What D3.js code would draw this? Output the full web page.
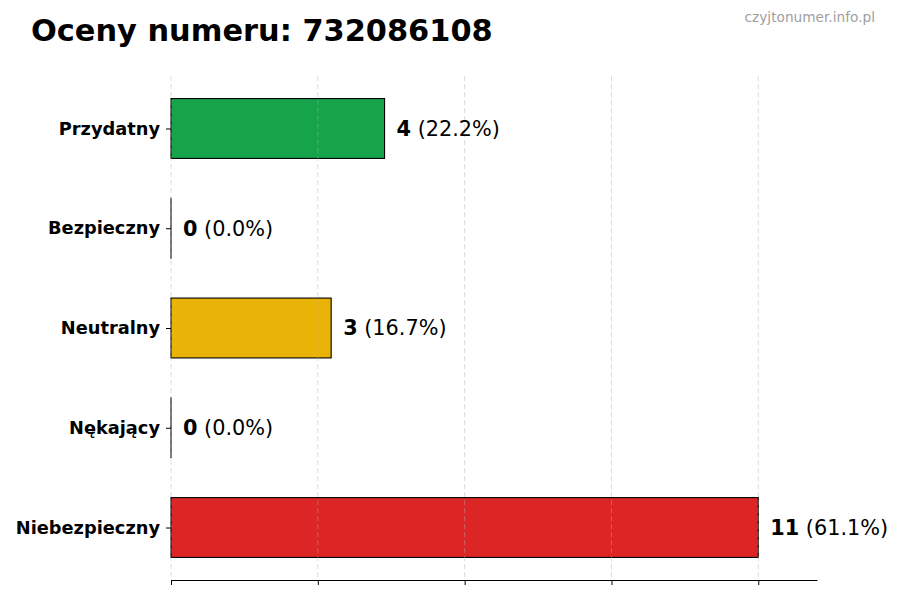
<!DOCTYPE html>
<html><head><meta charset="utf-8">
<script src="https://cdn.jsdelivr.net/npm/d3@7"></script>
<style>body{margin:0;background:#fff}svg{display:block}text{font-family:"DejaVu Sans",sans-serif}</style>
</head><body><svg id="c" width="900" height="600"></svg>
<script>
const categories = ["Przydatny","Bezpieczny","Neutralny","Nękający","Niebezpieczny"];
const counts = [4,0,3,0,11];
const percents = ["22.2%","0.0%","16.7%","0.0%","61.1%"];
const colors = ["#16a34a","#22c55e","#eab308","#f97316","#dc2626"];
const titleText = "Oceny numeru: 732086108";
const watermark = "czyjtonumer.info.pl";

(function(){
const svg = d3.select("#c");
const pL = 171, pR = 817, pT = 76, pB = 580;
const maxV = d3.max(counts);
const x = d3.scaleLinear().domain([0, maxV*1.1]).range([pL, pR]);
const y = d3.scalePoint().domain(categories).range([pT, pB]).padding(0.526);
const bh = y.step()*0.6;
const ticks = [0,0.25,0.5,0.75,1].map(f=>f*maxV);

// bars
svg.append("g").selectAll("rect").data(categories).join("rect")
  .attr("x", x(0)).attr("y", d=>y(d)-bh/2)
  .attr("width", (d,i)=>Math.max(x(counts[i])-x(0), 0.01)).attr("height", bh)
  .attr("fill", (d,i)=>colors[i]).attr("stroke","#000").attr("stroke-width",1.1);

// grid
svg.append("g").selectAll("line").data(ticks).join("line")
  .attr("x1", d=>x(d)).attr("x2", d=>x(d)).attr("y1", pT).attr("y2", pB)
  .attr("stroke","#b0b0b0").attr("stroke-opacity",0.55).attr("stroke-dasharray","5,3").attr("stroke-width",0.8);

// x axis
const xa = svg.append("g").attr("transform",`translate(0,${pB})`)
  .call(d3.axisBottom(x).tickValues(ticks).tickFormat("").tickSize(5).tickSizeOuter(0));
xa.select(".domain").attr("stroke","#000").attr("stroke-width",1.1);
xa.selectAll(".tick line").attr("stroke","#000").attr("stroke-width",1);

// y axis
const ya = svg.append("g").attr("transform",`translate(${pL},0)`)
  .call(d3.axisLeft(y).tickSize(5).tickPadding(6));
ya.select(".domain").remove();
ya.selectAll(".tick line").attr("stroke","#000");
ya.selectAll(".tick text").attr("font-size",17.8).attr("font-weight","bold").attr("fill","#000")
  .attr("font-family","DejaVu Sans");

// value labels
const vl = svg.append("g").selectAll("text").data(categories).join("text")
  .attr("x",(d,i)=>x(counts[i])+12).attr("y",d=>y(d)).attr("dy","0.35em")
  .attr("font-size",20.8).attr("fill","#000");
vl.append("tspan").attr("font-weight","bold").text((d,i)=>counts[i]);
vl.append("tspan").text((d,i)=>" ("+percents[i]+")");

svg.append("text").attr("x",31).attr("y",41).attr("font-size",30.4).attr("font-weight","bold").text(titleText);
svg.append("text").attr("x",875).attr("y",22).attr("text-anchor","end").attr("font-size",13.7).attr("fill","#a0a0a0").text(watermark);
})();
</script></body></html>
